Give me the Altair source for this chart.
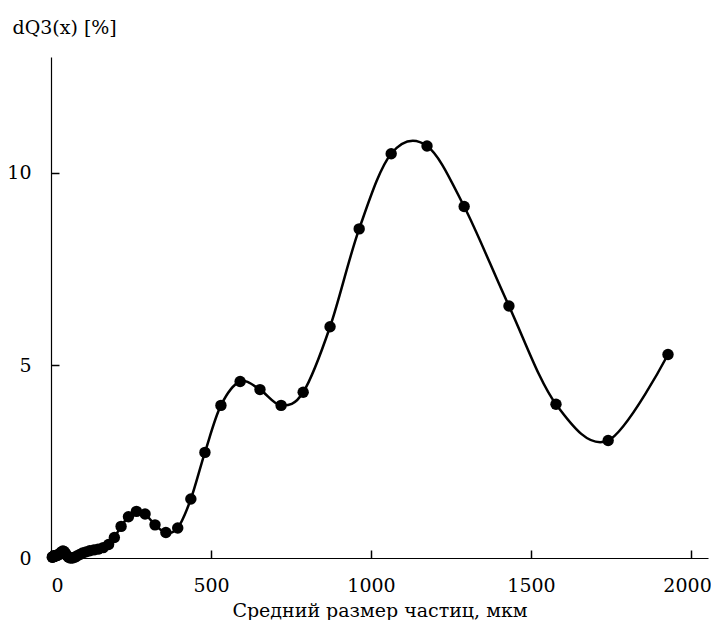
import altair as alt
import pandas as pd

# Particle size (µm) and differential distribution dQ3 (%)
size_um = [4, 5, 6, 7, 8, 9, 10, 11, 12, 13, 15, 16, 18, 20, 22, 24, 27, 30, 33, 37,
           41, 45, 50, 55, 60, 67, 74, 81, 90, 99, 110, 121, 134, 147, 163, 180, 198,
           219, 242, 267, 294, 325, 359, 396, 437, 481, 531, 591, 653, 719, 788, 872,
           963, 1063, 1175, 1291, 1431, 1578, 1741, 1928]
dq3 = [0.02, 0.03, 0.03, 0.04, 0.04, 0.05, 0.05, 0.05, 0.05, 0.05, 0.06, 0.06, 0.07,
       0.07, 0.08, 0.09, 0.11, 0.13, 0.16, 0.18, 0.17, 0.12, 0.06, 0.02, 0.0, 0.0,
       0.02, 0.05, 0.09, 0.13, 0.16, 0.19, 0.21, 0.23, 0.27, 0.35, 0.53, 0.82, 1.07,
       1.21, 1.14, 0.86, 0.66, 0.78, 1.53, 2.74, 3.96, 4.58, 4.37, 3.96, 4.3, 6.0,
       8.54, 10.49, 10.69, 9.12, 6.54, 3.99, 3.05, 5.28]

x_ticks = [0, 500, 1000, 1500, 2000]
y_ticks = [0, 5, 10]

W, H = 657, 501
FONT = "DejaVu Serif"

df = pd.DataFrame({"x": size_um, "y": dq3})
xs = alt.Scale(domain=[0, 2053], nice=False, zero=False)
ys = alt.Scale(domain=[0, 13], nice=False)

xaxis = alt.Axis(
    values=x_ticks, format="d", title="Средний размер частиц, мкм",
    ticks=True, tickSize={"expr": "-8"}, tickColor="black", tickWidth=1.5,
    grid=False, labelPadding=26, titleY=58, titleBaseline="alphabetic",
    labelOffset={"condition": {"test": "datum.value === 2000", "value": -4}, "value": 0},
    domainColor="black", domainWidth=1.2)
yaxis = alt.Axis(
    values=y_ticks, format="d", title="dQ3(x) [%]",
    ticks=True, tickSize={"expr": "-8"}, tickColor="black", tickWidth=1.5,
    grid=False, labelPadding=28, titleAngle=0, titleAlign="left", titleX=-39,
    titleY=-24, titleBaseline="alphabetic",
    domainColor="black", domainWidth=1.2)

line = alt.Chart(df).mark_line(
    color="black", strokeWidth=2.5, interpolate="cardinal"
).encode(
    x=alt.X("x:Q", scale=xs, axis=xaxis),
    y=alt.Y("y:Q", scale=ys, axis=yaxis),
)

points = alt.Chart(df).mark_circle(color="black", size=130, opacity=1).encode(
    x=alt.X("x:Q", scale=xs, axis=xaxis), y=alt.Y("y:Q", scale=ys, axis=yaxis)
)

chart = alt.layer(line, points).properties(
    width=W, height=H,
    autosize=alt.AutoSizeParams(type="none"),
    padding={"left": 43, "top": 49, "right": 3, "bottom": 62},
).configure_view(stroke=None).configure_axis(
    labelFont=FONT, titleFont=FONT, labelFontSize=19, titleFontSize=19,
    labelColor="black", titleColor="black", titleFontWeight="normal",
)

chart.save("out.html", embed_options={"renderer": "svg", "actions": False})
